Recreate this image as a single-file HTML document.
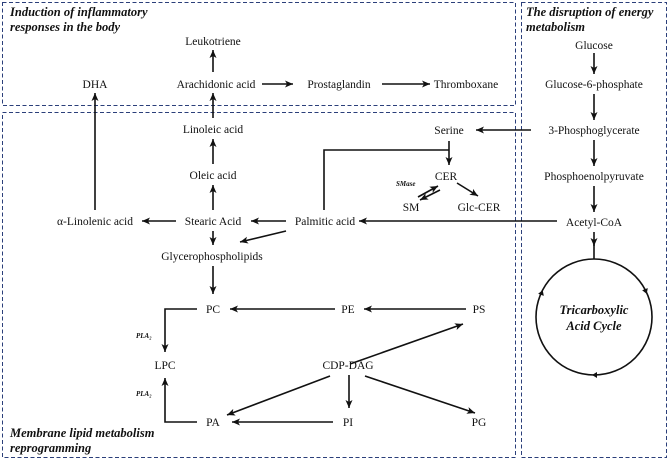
<!DOCTYPE html>
<html><head><meta charset="utf-8"><style>
html,body{margin:0;padding:0;background:#fff}
svg{display:block}
text{font-family:"Liberation Serif",serif;font-size:11.5px;fill:#111}
.t{font-weight:bold;font-style:italic;font-size:12.5px}
</style></head><body>
<svg width="669" height="460" viewBox="0 0 669 460">
<defs><marker id="a" markerWidth="9" markerHeight="9" refX="8" refY="4.5" orient="auto" markerUnits="userSpaceOnUse"><path d="M0,1 L8,4.5 L0,8 L2,4.5 Z" fill="#111"/></marker></defs>
<g fill="none" stroke="#2b3f7a" stroke-width="1" stroke-dasharray="4,2.5">
<rect x="2.5" y="2.5" width="513" height="103"/>
<rect x="2.5" y="112.5" width="513" height="345"/>
<rect x="521.5" y="2.5" width="145" height="455"/>
</g>
<text class="t" x="10" y="16">Induction of inflammatory</text>
<text class="t" x="10" y="31">responses in the body</text>
<text class="t" x="526" y="16">The disruption of energy</text>
<text class="t" x="526" y="31">metabolism</text>
<text class="t" x="10" y="437">Membrane lipid metabolism</text>
<text class="t" x="10" y="452">reprogramming</text>
<g text-anchor="middle">
<text x="213" y="45">Leukotriene</text>
<text x="95" y="88">DHA</text>
<text x="216" y="88">Arachidonic acid</text>
<text x="339" y="88">Prostaglandin</text>
<text x="466" y="88">Thromboxane</text>
<text x="213" y="133">Linoleic acid</text>
<text x="213" y="179">Oleic acid</text>
<text x="95" y="225">α-Linolenic acid</text>
<text x="213" y="225">Stearic Acid</text>
<text x="325" y="225">Palmitic acid</text>
<text x="212" y="260">Glycerophospholipids</text>
<text x="213" y="313">PC</text>
<text x="348" y="313">PE</text>
<text x="479" y="313">PS</text>
<text x="165" y="369">LPC</text>
<text x="348" y="369">CDP-DAG</text>
<text x="213" y="426">PA</text>
<text x="348" y="426">PI</text>
<text x="479" y="426">PG</text>
<text x="449" y="134">Serine</text>
<text x="446" y="180">CER</text>
<text x="411" y="211">SM</text>
<text x="479" y="211">Glc-CER</text>
<text x="594" y="49">Glucose</text>
<text x="594" y="88">Glucose-6-phosphate</text>
<text x="594" y="134">3-Phosphoglycerate</text>
<text x="594" y="180">Phosphoenolpyruvate</text>
<text x="594" y="226">Acetyl-CoA</text>
<text x="594" y="314" style="font-weight:bold;font-style:italic;font-size:12.5px">Tricarboxylic</text>
<text x="594" y="330" style="font-weight:bold;font-style:italic;font-size:12.5px">Acid Cycle</text>
</g>
<text x="396" y="186" style="font-size:7px;font-weight:bold;font-style:italic">SMase</text>
<text x="136" y="338" style="font-size:7px;font-weight:bold;font-style:italic">PLA₂</text>
<text x="136" y="396" style="font-size:7px;font-weight:bold;font-style:italic">PLA₂</text>
<g stroke="#111" stroke-width="1.6" fill="none" marker-end="url(#a)">
<line x1="213" y1="72" x2="213" y2="50"/>
<line x1="262" y1="84" x2="293" y2="84"/>
<line x1="382" y1="84" x2="430" y2="84"/>
<line x1="213" y1="118" x2="213" y2="93"/>
<line x1="213" y1="164" x2="213" y2="139"/>
<line x1="213" y1="210" x2="213" y2="185"/>
<line x1="95" y1="210" x2="95" y2="93"/>
<line x1="176" y1="221" x2="142" y2="221"/>
<line x1="286" y1="221" x2="251" y2="221"/>
<line x1="213" y1="231" x2="213" y2="245"/>
<line x1="286" y1="231" x2="240" y2="242"/>
<line x1="213" y1="266" x2="213" y2="294"/>
<line x1="335" y1="309" x2="230" y2="309"/>
<line x1="466" y1="309" x2="364" y2="309"/>
<polyline points="197,309 165,309 165,352"/>
<polyline points="197,422 165,422 165,378"/>
<line x1="333" y1="422" x2="232" y2="422"/>
<line x1="349" y1="375" x2="349" y2="408"/>
<line x1="330" y1="376" x2="227" y2="415"/>
<line x1="365" y1="376" x2="475" y2="413"/>
<line x1="350" y1="364" x2="463" y2="324"/>
<line x1="531" y1="130" x2="476" y2="130"/>
<line x1="449" y1="141" x2="449" y2="165"/>
<line x1="557" y1="221" x2="359" y2="221"/>
<line x1="457" y1="183" x2="478" y2="196"/>
<line x1="418" y1="197" x2="438" y2="186"/>
<line x1="440" y1="190" x2="420" y2="200"/>
<line x1="594" y1="53" x2="594" y2="74"/>
<line x1="594" y1="94" x2="594" y2="120"/>
<line x1="594" y1="140" x2="594" y2="166"/>
<line x1="594" y1="186" x2="594" y2="212"/>
<line x1="594" y1="232" x2="594" y2="246"/>
</g>
<g stroke="#111" stroke-width="1.6" fill="none">
<polyline points="324,210 324,150 449,150"/>
<line x1="594" y1="240" x2="594" y2="259"/>
<circle cx="594" cy="317" r="58"/>
</g>
<g fill="#111">
<path d="M542,290 l-3,5 l6,0 z" transform="rotate(20 542 292)"/>
<path d="M646,290 l3,5 l-6,0 z" transform="rotate(160 646 292)"/>
<path d="M592,375 l5,-3 l0,6 z"/>
</g>
</svg>
</body></html>
